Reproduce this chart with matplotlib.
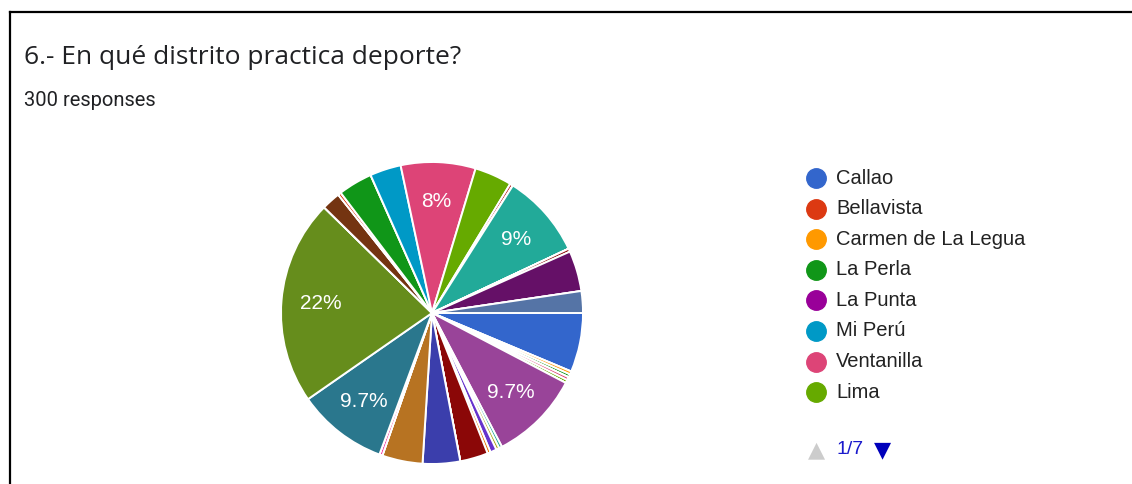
import matplotlib
matplotlib.use("Agg")
import matplotlib.pyplot as plt
from matplotlib.lines import Line2D

# Google Forms palette (31 colours, repeats after the last one)
palette = ['#3366cc', '#dc3912', '#ff9900', '#109618', '#990099', '#0099c6',
           '#dd4477', '#66aa00', '#b82e2e', '#316395', '#994499', '#22aa99',
           '#aaaa11', '#6633cc', '#e67300', '#8b0707', '#651067', '#329262',
           '#5574a6', '#3b3eac', '#b77322', '#16d620', '#b91383', '#f4359e',
           '#9c5935', '#a9c413', '#2a778d', '#668d1c', '#bea413', '#0c5922',
           '#743411']

# first legend page (1 of 7)
districts = ['Callao', 'Bellavista', 'Carmen de La Legua', 'La Perla',
             'La Punta', 'Mi Perú', 'Ventanilla', 'Lima']

# responses per option, in form order (50 options, 300 responses)
counts = [19, 0, 1, 1, 0, 0, 1, 1, 0, 0,
          29, 1, 1, 2, 1, 9, 0, 0, 0, 12,
          13, 0, 0, 1, 0, 0, 29, 66, 0, 0,
          6, 0, 1, 0, 11, 0, 10, 24, 12, 1,
          0, 0, 27, 0, 0, 0, 1, 13, 0, 7]

title = '6.- En qué distrito practica deporte?'
subtitle = '300 responses'
page_text = '1/7'

W, H = 1132, 484
fig = plt.figure(figsize=(W / 100, H / 100), dpi=100)
fig.patch.set_facecolor('white')

# frame lines on top and left
fig.add_artist(Line2D([10 / W, 1], [1 - 12 / H] * 2, color='black', lw=1.6))
fig.add_artist(Line2D([10 / W] * 2, [0, 1 - 12 / H], color='black', lw=1.6))

fig.text(24 / W, 1 - 57 / H, title, fontsize=19, family='Open Sans',
         color='#202124', va='center', ha='left')
fig.text(24 / W, 1 - 100 / H, subtitle, fontsize=14.5, family='Roboto',
         color='#202124', va='center', ha='left')

cx, cy, r = 432, 313, 151
ax = fig.add_axes([(cx - r) / W, (H - cy - r) / H, 2 * r / W, 2 * r / H])
colors = [palette[i % len(palette)] for i in range(len(counts))]


def pct_label(p):
    if p < 7:
        return ''
    s = f'{p:.1f}'.rstrip('0').rstrip('.')
    return s + '%'


wedges, texts, autotexts = ax.pie(
    counts, colors=colors, startangle=0, counterclock=False,
    autopct=pct_label, pctdistance=0.74,
    wedgeprops=dict(edgecolor='white', linewidth=1.4),
    textprops=dict(color='white', fontsize=15, family='Liberation Sans'))
ax.set_xlim(-1, 1)
ax.set_ylim(-1, 1)
ax.axis('off')

# legend page
for i, name in enumerate(districts):
    y = 1 - (178 + i * 30.6) / H
    fig.add_artist(Line2D([816 / W], [y], marker='o', markersize=14,
                          color=palette[i], linestyle='none'))
    fig.text(836 / W, y, name, fontsize=14.5, family='Liberation Sans',
             color='#222222', va='center', ha='left')

ny = 1 - 450 / H
fig.text(816 / W, ny, '▲', fontsize=16, family='DejaVu Sans',
         color='#cccccc', va='center', ha='center')
fig.text(837 / W, ny, page_text, fontsize=14, family='Liberation Sans',
         color='#1a1acc', va='center', ha='left')
fig.text(882 / W, ny, '▼', fontsize=16, family='DejaVu Sans',
         color='#0000bb', va='center', ha='center')

fig.savefig('out.png', dpi=100, facecolor='white')
